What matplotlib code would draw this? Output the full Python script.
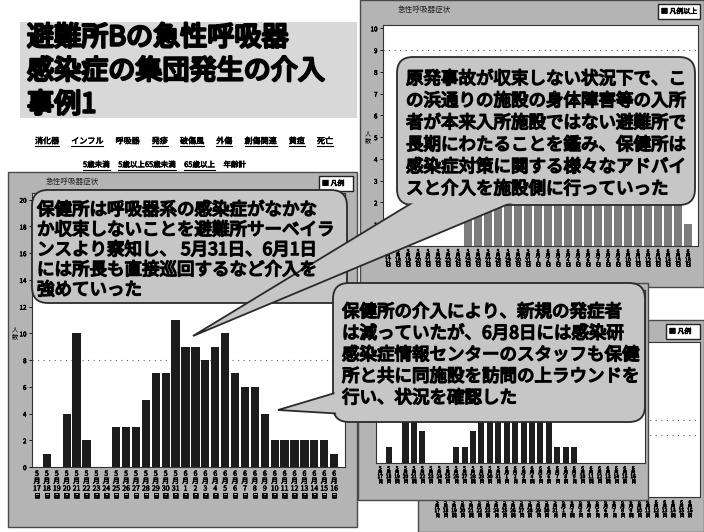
import matplotlib
matplotlib.use("Agg")
import matplotlib.pyplot as plt
import matplotlib.patheffects as pe
from matplotlib.patches import Rectangle, FancyBboxPatch, Polygon

plt.rcParams['font.family'] = ['Noto Sans CJK JP', 'DejaVu Sans']

W, H = 704, 532

# ---- data ----
title_lines = ["避難所Bの急性呼吸器", "感染症の集団発生の介入", "事例1"]
symptom_links = ["消化器", "インフル", "呼吸器", "発疹", "破傷風", "外傷", "創傷関連", "黄疸", "死亡"]
age_links = ["5歳未満", "5歳以上65歳未満", "65歳以上", "年齢計"]
chart_title = "急性呼吸器症状"

dates = ["5月17日", "5月18日", "5月19日", "5月20日", "5月21日", "5月22日", "5月23日",
         "5月24日", "5月25日", "5月26日", "5月27日", "5月28日", "5月29日", "5月30日",
         "5月31日", "6月1日", "6月2日", "6月3日", "6月4日", "6月5日", "6月6日",
         "6月7日", "6月8日", "6月9日", "6月10日", "6月11日", "6月12日", "6月13日",
         "6月14日", "6月15日", "6月16日"]

# shelter B, acute respiratory symptoms (front chart)
cases_main = [0, 1, 0, 4, 10, 2, 0, 0, 3, 3, 3, 5, 7, 7, 11, 9, 9, 8, 9, 10, 7,
              6, 6, 4, 2, 2, 2, 2, 2, 2, 1]
# charts partly hidden behind the callouts
cases_top = [0, 0, 0, 0, 0, 0, 0, 0, 2, 2, 2, 2, 2, 2, 2, 2, 2, 2, 2, 2, 2,
             2, 2, 2, 2, 2, 2, 2, 2, 2, 1]
cases_mid = [0, 1, 0, 4, 4, 2, 0, 0, 0, 1, 1, 2, 5, 5, 6, 6, 5, 5, 5, 4, 4,
             1, 1, 1, 0, 0, 0, 0, 0, 0, 0]
cases_far = [0, 0, 0, 1, 2, 1, 0, 0, 1, 1, 1, 2, 2, 3, 3, 3, 2, 2, 2, 1, 1,
             1, 0, 0, 0, 0, 0, 0, 0, 0, 0]

note_left = ["保健所は呼吸器系の感染症がなかな",
             "か収束しないことを避難所サーベイラ",
             "ンスより察知し、 5月31日、6月1日",
             "には所長も直接巡回するなど介入を",
             "強めていった"]
note_top = ["原発事故が収束しない状況下で、こ",
            "の浜通りの施設の身体障害等の入所",
            "者が本来入所施設ではない避難所で",
            "長期にわたることを鑑み、保健所は",
            "感染症対策に関する様々なアドバイ",
            "スと介入を施設側に行っていった"]
note_mid = ["保健所の介入により、新規の発症者",
            "は減っていたが、6月8日には感染研",
            "感染症情報センターのスタッフも保健",
            "所と共に同施設を訪問の上ラウンドを",
            "行い、状況を確認した"]

FRAME = '#b4b4b4'
BUBBLE = '#c6c6c6'
BOLD = [pe.withStroke(linewidth=1.1, foreground='black')]
BOLD_BIG = [pe.withStroke(linewidth=1.8, foreground='black')]
BOLD_SMALL = [pe.withStroke(linewidth=0.4, foreground='black')]

fig = plt.figure(figsize=(W / 100, H / 100), dpi=100)
fig.patch.set_facecolor('white')


def px_axes(x0, y0, x1, y1, z):
    return fig.add_axes([x0 / W, 1 - y1 / H, (x1 - x0) / W, (y1 - y0) / H], zorder=z)


def overlay(z):
    ax = fig.add_axes([0, 0, 1, 1], zorder=z)
    ax.set_xlim(0, W)
    ax.set_ylim(H, 0)
    ax.axis('off')
    return ax


def vlabel(d):
    m, rest = d.split("月")
    return f"{m}\n月\n{rest[:-1]}\n日"


def window(ov, x0, y0, x1, y1, legend="■ 凡例", lw_box=34, title=True, box=True):
    ov.add_patch(Rectangle((x0, y0), x1 - x0, y1 - y0, facecolor=FRAME,
                           edgecolor='#4a4a4a', lw=1))
    if title:
        ov.text(x0 + 38, y0 + 10, chart_title, fontsize=5.5, va='center', color='#222')
    if box:
        ov.add_patch(Rectangle((x1 - lw_box - 4, y0 + 4), lw_box, 15, facecolor='white',
                               edgecolor='#222', lw=1))
        ov.text(x1 - lw_box - 1, y0 + 11.5, legend, fontsize=5, va='center',
                path_effects=BOLD_SMALL)


def chart(ax, values, xlim, ylim, yticks, color, width, fs, ls):
    idx = list(range(len(values)))
    ax.bar(idx, values, width, color=color)
    ax.set_xlim(*xlim)
    ax.set_ylim(*ylim)
    ax.set_facecolor('white')
    ax.set_xticks(idx)
    ax.set_xticklabels([vlabel(d) for d in dates], fontsize=fs, linespacing=ls,
                       va='top', path_effects=BOLD_SMALL)
    ax.set_yticks(yticks)
    ax.set_yticklabels([str(t) for t in yticks], fontsize=4.5, path_effects=BOLD_SMALL)
    ax.tick_params(axis='x', length=0, pad=2)
    ax.tick_params(axis='y', length=2, pad=2, width=0.6)
    for s in ax.spines.values():
        s.set_color('#333')
        s.set_linewidth(0.8)


# ---- back windows ----
ov1 = overlay(1)
window(ov1, 360, 0, 704, 287, legend="■ 凡例以上", lw_box=42)
ov1.text(368, 137, "人\n数", fontsize=4.5, va='center', ha='center', linespacing=0.9)
ax_top = px_axes(383, 25, 698, 246, 1.5)
chart(ax_top, cases_top, (-0.5, 31), (0, 10.15), list(range(0, 11)), '#7c7c7c', 0.72, 3.6, 0.85)
ax_top.axhline(9, color='#555', lw=0.8, ls=(0, (1, 4)))

ov2 = overlay(2)
window(ov2, 418, 320, 704, 532, title=False)
ax_far = px_axes(433, 342, 700, 497, 2.5)
chart(ax_far, cases_far, (-0.5, 31.2), (0, 10), [], '#222', 0.75, 3.5, 0.8)
ax_far.axhline(4, color='#555', lw=0.8, ls=(0, (1, 4)))
ax_far.axhline(5, color='#555', lw=0.8, ls=(0, (1, 4)))

ov3 = overlay(3)
window(ov3, 358, 283, 648, 500, title=False, box=False)
ax_mid = px_axes(376, 290, 645, 463, 3.5)
chart(ax_mid, cases_mid, (-0.5, 31.4), (0, 10.8), [], '#1e1e1e', 0.72, 3.5, 0.8)

# ---- front chart ----
ov4 = overlay(4)
window(ov4, 8, 172, 357, 527)
ov4.text(15, 333, "人\n数", fontsize=4.5, va='center', ha='center', linespacing=0.9)
ax_main = px_axes(32, 193, 345, 467, 4.5)
chart(ax_main, cases_main, (-0.5, 31.1), (0, 20.5), list(range(0, 21, 2)), '#1c1c1c', 0.84, 5.0, 0.9)
ax_main.axhline(8, color='#666', lw=0.8, ls=(0, (1, 4)), zorder=0)

# ---- heading and link rows ----
ov5 = overlay(5)
ov5.add_patch(Rectangle((20, 22), 337, 96, facecolor='#d8d8d8', edgecolor='none'))
for i, line in enumerate(title_lines):
    ov5.text(27, 38 + i * 33.5, line, fontsize=19.5, va='center', path_effects=BOLD_BIG)

row1 = [ov5.text(0, 141, w, fontsize=5.8, va='center', path_effects=BOLD_SMALL)
        for w in symptom_links]
row2 = [ov5.text(0, 165, w, fontsize=5.4, va='center', path_effects=BOLD_SMALL)
        for w in age_links]

# ---- callouts ----
ov6 = overlay(6)


def bubble(x0, y0, x1, y1, lines, tx, ty, dy, tail=None):
    ov6.add_patch(FancyBboxPatch((x0, y0), x1 - x0, y1 - y0,
                                 boxstyle="round,pad=0,rounding_size=16",
                                 facecolor=BUBBLE, edgecolor='#2a2a2a', lw=1.3))
    if tail is not None:
        ov6.add_patch(Polygon(tail, closed=True, facecolor=BUBBLE,
                              edgecolor='#2a2a2a', lw=1.3))
        ov6.add_patch(FancyBboxPatch((x0 + 1.5, y0 + 1.5), x1 - x0 - 3, y1 - y0 - 3,
                                     boxstyle="round,pad=0,rounding_size=15",
                                     facecolor=BUBBLE, edgecolor='none'))
    for i, line in enumerate(lines):
        ov6.text(tx, ty + i * dy, line, fontsize=12.6, va='center', path_effects=BOLD)


bubble(32, 190, 347, 303, note_left, 37, 210, 20)
bubble(397, 57, 695, 205, note_top, 406, 79, 22,
       tail=[(193, 336), (425, 195), (530, 195)])
bubble(333, 283, 645, 422, note_mid, 342, 312, 21.5,
       tail=[(278, 410), (345, 390), (345, 414)])

# spread the link words across their row, underline the links
fig.canvas.draw()
inv = ov5.transData.inverted()


def width_of(t):
    bb = t.get_window_extent()
    (xa, _), (xb, _) = inv.transform([(bb.x0, bb.y0), (bb.x1, bb.y0)])
    return xb - xa


for texts, x_start, x_end, plain in [(row1, 35, 333, "呼吸器"), (row2, 83, 246, "年齢計")]:
    widths = [width_of(t) for t in texts]
    gap = (x_end - x_start - sum(widths)) / (len(texts) - 1)
    x = x_start
    for t, w in zip(texts, widths):
        t.set_x(x)
        if t.get_text() != plain:
            y = t.get_position()[1] + 5
            ov5.plot([x, x + w], [y, y], color='black', lw=0.8)
        x += w + gap

fig.savefig("out.png", dpi=100)
